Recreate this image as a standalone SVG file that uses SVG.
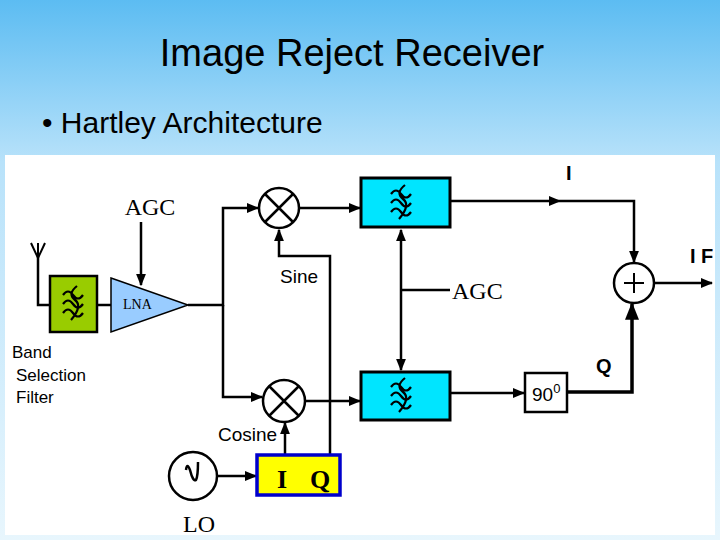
<svg xmlns="http://www.w3.org/2000/svg" width="720" height="540" viewBox="0 0 720 540">
<defs>
<linearGradient id="bg" x1="0" y1="0" x2="0" y2="1">
<stop offset="0" stop-color="#5cbcf2"/><stop offset="0.3" stop-color="#b8e2fa"/><stop offset="1" stop-color="#e8f6fd"/>
</linearGradient>
<marker id="ar" viewBox="0 0 10 10" refX="9" refY="5" markerWidth="5" markerHeight="5" orient="auto-start-reverse"><path d="M0,1 L10,5 L0,9 z" fill="#000"/></marker>
<g id="wav" fill="none" stroke="#000" stroke-width="2.2">
<path d="M-10,-7 q5,-7 10,0 q5,7 10,0 M-10,2 q5,-7 10,0 q5,7 10,0 M-10,11 q5,-7 10,0 q5,7 10,0 M4,-16 q-10,8 -2,14 q8,6 -4,20"/>
</g>
</defs>
<style>
.w{stroke:#000;stroke-width:2.5;fill:none}
.s{font-family:"Liberation Sans",Arial,sans-serif}
.r{font-family:"Liberation Serif","Times New Roman",serif}
</style>
<rect width="720" height="540" fill="url(#bg)"/>
<rect x="5" y="155" width="710" height="380" fill="#fff"/>
<text class="s" x="352" y="66" font-size="38" text-anchor="middle">Image Reject Receiver</text>
<text class="s" x="42" y="133" font-size="30">• Hartley Architecture</text>

<g id="connectors" class="w">
<path d="M38,255 V305 H50"/>
<path d="M31,243 L38,258 L45,243 M38,243 V258" stroke-width="2"/>
<path d="M97,305 H111"/>
<path d="M141,222 V285" marker-end="url(#ar)"/>
<path d="M188,305 H223 V208 H258" marker-end="url(#ar)"/>
<path d="M223,305 V397 H262" marker-end="url(#ar)"/>
<path d="M330,455 V256 H279 V230" marker-end="url(#ar)"/>
<path d="M300,208 H360" marker-end="url(#ar)"/>
<path d="M305,401 H360" marker-end="url(#ar)"/>
<path d="M285,455 V423" marker-end="url(#ar)"/>
<path d="M217,476 H256" marker-end="url(#ar)"/>
<path d="M450,201 H560" marker-end="url(#ar)"/>
<path d="M560,201 H634 V262" marker-end="url(#ar)"/>
<path d="M655,283 H712" marker-end="url(#ar)"/>
<path d="M450,393 H524" marker-end="url(#ar)"/>
<path d="M567,392 H632 V304" stroke-width="3.5" marker-end="url(#ar)"/>
<path d="M401,230 V370" marker-start="url(#ar)" marker-end="url(#ar)"/>
<path d="M401,290 H450"/>
</g>

<g id="bpf"><rect x="50" y="276" width="47" height="56" fill="#99cc00" stroke="#000" stroke-width="2.5"/><use href="#wav" x="73" y="302"/></g>
<g id="lna"><path d="M111,278 L188,305 L111,332 Z" fill="#99ccff" stroke="#000" stroke-width="1.5"/><text class="r" x="123" y="309" font-size="14">LNA</text></g>
<g id="agc1"><text class="r" x="150" y="215" font-size="24" text-anchor="middle">AGC</text></g>
<g id="mix1"><circle cx="279" cy="208" r="20" fill="#fff" stroke="#000" stroke-width="2.5"/><path d="M265,194 L293,222 M293,194 L265,222" class="w"/></g>
<g id="mix2"><circle cx="284" cy="401" r="21" fill="#fff" stroke="#000" stroke-width="2.5"/><path d="M269,386 L299,416 M299,386 L269,416" class="w"/></g>
<g id="f1"><rect x="361" y="178" width="89" height="49" fill="#00e5ff" stroke="#000" stroke-width="3"/><use href="#wav" x="401" y="201"/></g>
<g id="f2"><rect x="361" y="372" width="89" height="48" fill="#00e5ff" stroke="#000" stroke-width="3"/><use href="#wav" x="401" y="394"/></g>
<g id="ph"><rect x="525" y="373" width="42" height="39" fill="#fff" stroke="#000" stroke-width="2.5"/><text class="s" x="532" y="401" font-size="19">90<tspan dy="-8" font-size="13">0</tspan></text></g>
<g id="sum"><circle cx="634" cy="283" r="20" fill="#fff" stroke="#000" stroke-width="2.5"/><path d="M624,283 H644 M634,273 V293" stroke="#000" stroke-width="2"/></g>
<g id="lo"><circle cx="193" cy="476" r="24" fill="#fff" stroke="#000" stroke-width="2.5"/><path d="M186,470 q1,-8 4,0 q3,12 6,10 q2,-4 2,-18" fill="none" stroke="#000" stroke-width="2.5"/><text class="r" x="183" y="532" font-size="24">LO</text></g>
<g id="iq"><rect x="257" y="455" width="83" height="40" fill="#ffff00" stroke="#0000cc" stroke-width="3.5"/><text class="r" x="277" y="488" font-size="26" font-weight="bold">I</text><text class="r" x="310" y="488" font-size="26" font-weight="bold">Q</text></g>
<g id="labels">
<text class="s" x="299" y="283" font-size="19" text-anchor="middle">Sine</text>
<text class="s" x="218" y="441" font-size="19">Cosine</text>
<text class="r" x="452" y="299" font-size="24">AGC</text>
<text class="s" x="566" y="180" font-size="20" font-weight="bold">I</text>
<text class="s" x="690" y="263" font-size="20" font-weight="bold">I F</text>
<text class="s" x="596" y="373" font-size="20" font-weight="bold">Q</text>
<text class="s" x="12" y="358" font-size="17">Band</text>
<text class="s" x="16" y="381" font-size="17">Selection</text>
<text class="s" x="16" y="403" font-size="17">Filter</text>
</g>
</svg>
